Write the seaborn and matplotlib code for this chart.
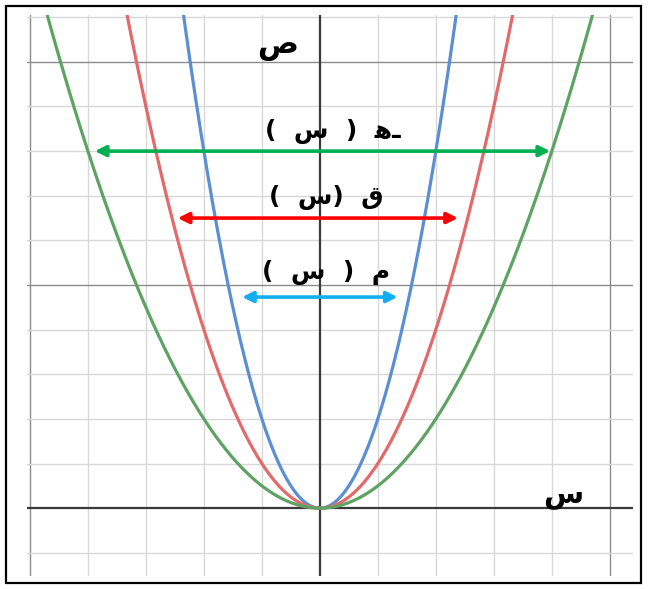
import numpy as np
import pandas as pd
import matplotlib
matplotlib.use("Agg")
import matplotlib.pyplot as plt
from matplotlib.patches import Rectangle
import seaborn as sns

# Parabolas y = a * x^2
curve_names = ["م", "ق", "هـ"]
curve_coefs = [2.0, 1.0, 0.5]
curve_colors = ["#5b8fd2", "#e26a6a", "#5fa364"]

# Horizontal double arrows (y level, left end, right end)
arrow_y = [4.73, 6.5, 8.0]
arrow_left = [-1.34, -2.45, -3.88]
arrow_right = [1.34, 2.38, 3.97]
arrow_colors = ["#12aef0", "#ff0000", "#00b050"]

# Function labels (visual order, left to right)
label_texts = ["(  س  )  م", "(  س)  ق", "(  س  )  \ufeebـ"]
label_x = [0.10, 0.12, 0.22]
label_y = [5.29, 6.95, 8.45]

x_min, x_max = -5.05, 5.40
y_min, y_max = -1.52, 11.05

sns.set_theme(style="white")
plt.rcParams["font.family"] = ["DejaVu Sans"]

fig = plt.figure(figsize=(6.48, 5.89), dpi=100)
ax = fig.add_axes([27 / 648, 1 - 576 / 589, 606 / 648, 561 / 589])

# grid: minor every unit, major every 5 units
for xv in range(-5, 6):
    if xv == 0:
        continue
    major = xv % 5 == 0
    ax.axvline(xv, color="#8c8c8c" if major else "#d8d8d8", lw=1.0, zorder=0)
for yv in range(-1, 12):
    if yv == 0:
        continue
    major = yv % 5 == 0
    ax.axhline(yv, color="#8c8c8c" if major else "#d8d8d8", lw=1.0, zorder=0)
ax.axhline(0, color="#3a3a3a", lw=1.6, zorder=1)
ax.axvline(0, color="#3a3a3a", lw=1.6, zorder=1)

xs = np.linspace(-5.5, 5.5, 601)
frames = []
for name, a in zip(curve_names, curve_coefs):
    frames.append(pd.DataFrame({"x": xs, "y": a * xs ** 2, "f": name}))
df = pd.concat(frames, ignore_index=True)
sns.lineplot(data=df, x="x", y="y", hue="f", palette=dict(zip(curve_names, curve_colors)),
             linewidth=2.3, legend=False, ax=ax, zorder=3)

for y, xl, xr, c in zip(arrow_y, arrow_left, arrow_right, arrow_colors):
    ax.annotate("", xy=(xr, y), xytext=(xl, y),
                arrowprops=dict(arrowstyle="<|-|>", color=c, lw=2.6,
                                mutation_scale=16, shrinkA=0, shrinkB=0),
                zorder=4)

for t, x, y in zip(label_texts, label_x, label_y):
    ax.text(x, y, t, ha="center", va="center", fontsize=18, fontweight="bold",
            color="black", zorder=5)

ax.text(-0.72, 10.35, "ص", ha="center", va="center", fontsize=22,
        fontweight="bold", color="black")
ax.text(4.2, 0.3, "س", ha="center", va="center", fontsize=21,
        fontweight="bold", color="black")

ax.set_xlim(x_min, x_max)
ax.set_ylim(y_min, y_max)
ax.set_xticks([])
ax.set_yticks([])
ax.set_xlabel("")
ax.set_ylabel("")
for s in ax.spines.values():
    s.set_visible(False)

fig.patches.append(Rectangle((6 / 648, 6 / 589), 635 / 648, 577 / 589,
                             transform=fig.transFigure, fill=False,
                             edgecolor="black", lw=1.6))

fig.savefig("out.png", dpi=100, facecolor="white")
